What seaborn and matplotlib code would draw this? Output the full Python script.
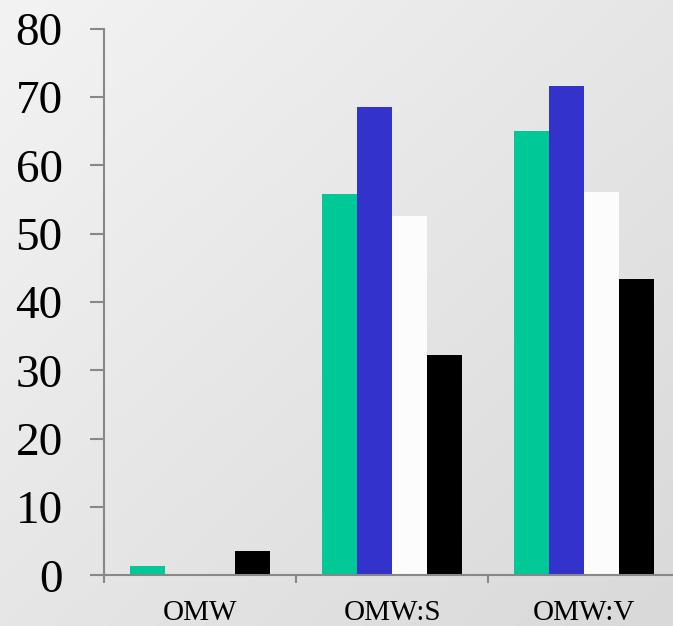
import matplotlib
matplotlib.use("Agg")
import matplotlib.pyplot as plt
import seaborn as sns
import numpy as np
import pandas as pd

categories = ["OMW", "OMW:S", "OMW:V"]
series = ["Serie 1", "Serie 2", "Serie 3", "Serie 4"]
serie_1 = [1.3, 55.8, 65.0]
serie_2 = [0.0, 68.6, 71.6]
serie_3 = [0.0, 52.6, 56.1]
serie_4 = [3.6, 32.3, 43.3]
y_ticks = [0, 10, 20, 30, 40, 50, 60, 70, 80]
colors = ["#00C896", "#3333CC", "#FCFCFC", "#000000"]

rows = []
for name, vals in zip(series, [serie_1, serie_2, serie_3, serie_4]):
    for cat, v in zip(categories, vals):
        rows.append({"category": cat, "series": name, "value": v})
df = pd.DataFrame(rows)

sns.set_style("white")
plt.rcParams["font.family"] = ["Liberation Serif", "DejaVu Serif"]

fig = plt.figure(figsize=(6.73, 6.26), dpi=100)

# Hintergrund mit diagonalem Verlauf
bg = fig.add_axes([0, 0, 1, 1], zorder=0)
gx, gy = np.meshgrid(np.linspace(0, 1, 200), np.linspace(0, 1, 200))
grad = (gx + gy) / 2
bg.imshow(grad, cmap=matplotlib.colors.LinearSegmentedColormap.from_list(
    "bg", ["#F3F3F3", "#D9D9D9"]), aspect="auto", extent=[0, 1, 0, 1],
    origin="upper", vmin=0, vmax=1)
bg.axis("off")

ax = fig.add_axes([104.3 / 673, (626 - 575.3) / 626, 576 / 673, 546.6 / 626], zorder=1)
ax.patch.set_alpha(0)
sns.barplot(data=df, x="category", y="value", hue="series", palette=colors,
            width=0.73, gap=0, saturation=1, legend=False, ax=ax,
            edgecolor="none", linewidth=0)

ax.set_xlim(-0.5, 2.5)
ax.set_ylim(0, 80)
ax.set_yticks(y_ticks)
ax.set_xticks([-0.5, 0.5, 1.5, 2.5])
ax.set_xticklabels([])
ax.set_xticks([0, 1, 2], minor=True)
ax.set_xticklabels(categories, minor=True)
ax.set_xlabel("")
ax.set_ylabel("")

for s in ["top", "right"]:
    ax.spines[s].set_visible(False)
for s in ["left", "bottom"]:
    ax.spines[s].set_color("#888888")
    ax.spines[s].set_linewidth(1.5)

ax.tick_params(axis="y", which="major", direction="out", length=10, width=1.5,
               color="#888888", labelsize=34, pad=20, left=True,
               labelcolor="black")
ax.tick_params(axis="x", which="major", direction="out", length=6, width=1.5,
               color="#888888", bottom=True)
ax.tick_params(axis="x", which="minor", length=0, labelsize=21, pad=18,
               labelcolor="black")

plt.savefig("out.png", dpi=100)
plt.close()
